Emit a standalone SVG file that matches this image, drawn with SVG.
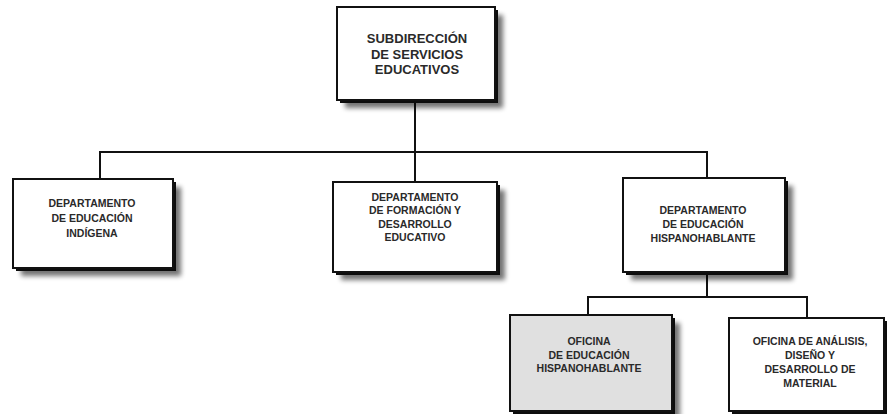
<svg xmlns="http://www.w3.org/2000/svg" width="887" height="414" viewBox="0 0 887 414">
<defs>
<filter id="sh" x="-10%" y="-10%" width="130%" height="130%">
<feGaussianBlur in="SourceAlpha" stdDeviation="2.5"/>
<feOffset dx="5" dy="5" result="b"/>
<feComponentTransfer><feFuncA type="linear" slope="0.55"/></feComponentTransfer>
<feMerge><feMergeNode/><feMergeNode in="SourceGraphic"/></feMerge>
</filter>
<style>
.sd{fill:#111;filter:url(#sh)}
.bx{fill:#fff;stroke:#111;stroke-width:2}
.gr{fill:#e0e0e0}
.t{font-family:"Liberation Sans",Arial,sans-serif;font-weight:bold;font-size:10.5px;fill:#2a2a2a;text-anchor:middle}
.tt{font-size:13px}
.c{stroke:#111;stroke-width:2;fill:none}
</style>
</defs>
<rect width="887" height="414" fill="#fff"/>
<g id="connectors">
<path class="c" d="M415 100V152M100 179V152H707V178M415 152V182M707 272V297M588 315V297H807V318"/>
</g>
<g id="n0">
<rect class="sd" x="340" y="10" width="158" height="93"/>
<rect class="bx" x="337" y="7" width="158" height="93"/>
<text class="t tt" x="417" y="43">SUBDIRECCIÓN</text>
<text class="t tt" x="417" y="58.5">DE SERVICIOS</text>
<text class="t tt" x="417" y="74">EDUCATIVOS</text>
</g>
<g id="n1">
<rect class="sd" x="16" y="182" width="160" height="89"/>
<rect class="bx" x="13" y="179" width="160" height="89"/>
<text class="t" x="92" y="206.5">DEPARTAMENTO</text>
<text class="t" x="92" y="221.5">DE EDUCACIÓN</text>
<text class="t" x="92" y="236.5">INDÍGENA</text>
</g>
<g id="n2">
<rect class="sd" x="336" y="185" width="164" height="90"/>
<rect class="bx" x="333" y="182" width="164" height="90"/>
<text class="t" x="415" y="200.5">DEPARTAMENTO</text>
<text class="t" x="415" y="214">DE FORMACIÓN Y</text>
<text class="t" x="415" y="227.5">DESARROLLO</text>
<text class="t" x="415" y="241">EDUCATIVO</text>
</g>
<g id="n3">
<rect class="sd" x="626" y="181" width="162" height="94"/>
<rect class="bx" x="623" y="178" width="162" height="94"/>
<text class="t" x="703" y="213.5">DEPARTAMENTO</text>
<text class="t" x="703" y="227.5">DE EDUCACIÓN</text>
<text class="t" x="703" y="241.5">HISPANOHABLANTE</text>
</g>
<g id="n4">
<rect class="sd" x="513" y="318" width="162" height="96"/>
<rect class="bx gr" x="510" y="315" width="162" height="96"/>
<text class="t" x="589" y="345">OFICINA</text>
<text class="t" x="589" y="358.5">DE EDUCACIÓN</text>
<text class="t" x="589" y="372">HISPANOHABLANTE</text>
</g>
<g id="n5">
<rect class="sd" x="732" y="321" width="155" height="93"/>
<rect class="bx" x="729" y="318" width="155" height="93"/>
<text class="t" x="810" y="345">OFICINA DE ANÁLISIS,</text>
<text class="t" x="810" y="359">DISEÑO Y</text>
<text class="t" x="810" y="373">DESARROLLO DE</text>
<text class="t" x="810" y="387">MATERIAL</text>
</g>
</svg>
